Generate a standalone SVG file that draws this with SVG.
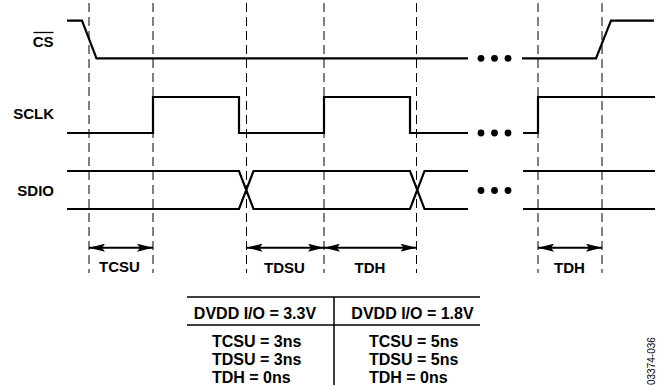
<svg xmlns="http://www.w3.org/2000/svg" width="657" height="385" viewBox="0 0 657 385">
<defs>
<style>
.sig{fill:none;stroke:#000;stroke-width:2.2;stroke-linejoin:miter}
.dash{fill:none;stroke:#000;stroke-width:1;stroke-dasharray:9,5}
.arr{fill:none;stroke:#000;stroke-width:2;marker-start:url(#ah);marker-end:url(#ah)}
.lbl{font-family:"Liberation Sans",Arial,sans-serif;font-weight:bold;font-size:15px;fill:#000}
.tbl{font-family:"Liberation Sans",Arial,sans-serif;font-weight:bold;font-size:16px;fill:#000}
.tl{fill:none;stroke:#000;stroke-width:1.5}
</style>
<marker id="ah" viewBox="0 0 16 8" refX="16" refY="4" markerWidth="16" markerHeight="8" markerUnits="userSpaceOnUse" orient="auto-start-reverse">
<path d="M0,0 L16,4 L0,8 L3,4 Z" fill="#000"/>
</marker>
</defs>
<rect width="657" height="385" fill="#fff"/>
<g id="gridlines">
<line class="dash" x1="89" y1="3" x2="89" y2="273"/>
<line class="dash" x1="153" y1="3" x2="153" y2="273"/>
<line class="dash" x1="246.5" y1="3" x2="246.5" y2="273"/>
<line class="dash" x1="324" y1="3" x2="324" y2="273"/>
<line class="dash" x1="416.5" y1="3" x2="416.5" y2="273"/>
<line class="dash" x1="538" y1="3" x2="538" y2="273"/>
<line class="dash" x1="602" y1="3" x2="602" y2="273"/>
</g>
<g id="cs">
<text class="lbl" x="53.5" y="46.5" text-anchor="end" font-size="14">CS</text>
<line x1="33.5" y1="32.5" x2="53.5" y2="32.5" stroke="#000" stroke-width="1.3"/>
<polyline class="sig" points="67,20.7 82,20.7 96.5,58.3 468,58.3"/>
<polyline class="sig" points="522,58.3 596,58.3 611,20.7 654,20.7"/>
<circle cx="481" cy="58.3" r="3.4"/>
<circle cx="494.5" cy="58.3" r="3.4"/>
<circle cx="508" cy="58.3" r="3.4"/>
</g>
<g id="sclk">
<text class="lbl" x="54" y="119.3" text-anchor="end">SCLK</text>
<polyline class="sig" points="67,133 153,133 153,97 239,97 239,133 324,133 324,97 410,97 410,133 468,133"/>
<polyline class="sig" points="523,133 538,133 538,97 655,97"/>
<circle cx="481" cy="133" r="3.4"/>
<circle cx="494.5" cy="133" r="3.4"/>
<circle cx="508" cy="133" r="3.4"/>
</g>
<g id="sdio">
<text class="lbl" x="54" y="196" text-anchor="end">SDIO</text>
<polyline class="sig" points="67,171 239,171 253.5,209 410,209 424.5,171 468,171"/>
<polyline class="sig" points="67,209 239,209 253.5,171 410,171 424.5,209 468,209"/>
<line class="sig" x1="523" y1="171" x2="655" y2="171"/>
<line class="sig" x1="523" y1="209" x2="655" y2="209"/>
<circle cx="481" cy="190.5" r="3.4"/>
<circle cx="494.5" cy="190.5" r="3.4"/>
<circle cx="508" cy="190.5" r="3.4"/>
</g>
<g id="timings">
<line class="arr" x1="89" y1="247.7" x2="153" y2="247.7"/>
<line class="arr" x1="246.5" y1="247.7" x2="324" y2="247.7"/>
<line class="arr" x1="324" y1="247.7" x2="416.5" y2="247.7"/>
<line class="arr" x1="538" y1="247.7" x2="602" y2="247.7"/>
<text class="lbl" x="119.5" y="272" text-anchor="middle">TCSU</text>
<text class="lbl" x="284.5" y="272.5" text-anchor="middle">TDSU</text>
<text class="lbl" x="370" y="272.5" text-anchor="middle">TDH</text>
<text class="lbl" x="569.5" y="272.5" text-anchor="middle">TDH</text>
</g>
<g id="table">
<line class="tl" x1="187" y1="297" x2="480" y2="297"/>
<line class="tl" x1="187" y1="325" x2="480" y2="325"/>
<line class="tl" x1="334" y1="297" x2="334" y2="385"/>
<text class="tbl" x="255" y="319" text-anchor="middle">DVDD I/O = 3.3V</text>
<text class="tbl" x="412.5" y="319" text-anchor="middle">DVDD I/O = 1.8V</text>
<text class="tbl" x="212" y="346.5">TCSU = 3ns</text>
<text class="tbl" x="212" y="365">TDSU = 3ns</text>
<text class="tbl" x="212" y="383">TDH = 0ns</text>
<text class="tbl" x="369" y="346.5">TCSU = 5ns</text>
<text class="tbl" x="369" y="365">TDSU = 5ns</text>
<text class="tbl" x="369" y="383">TDH = 0ns</text>
</g>
<text transform="translate(655,385) rotate(-90)" font-family="'Liberation Sans',Arial,sans-serif" font-size="10" fill="#000">03374-036</text>
</svg>
